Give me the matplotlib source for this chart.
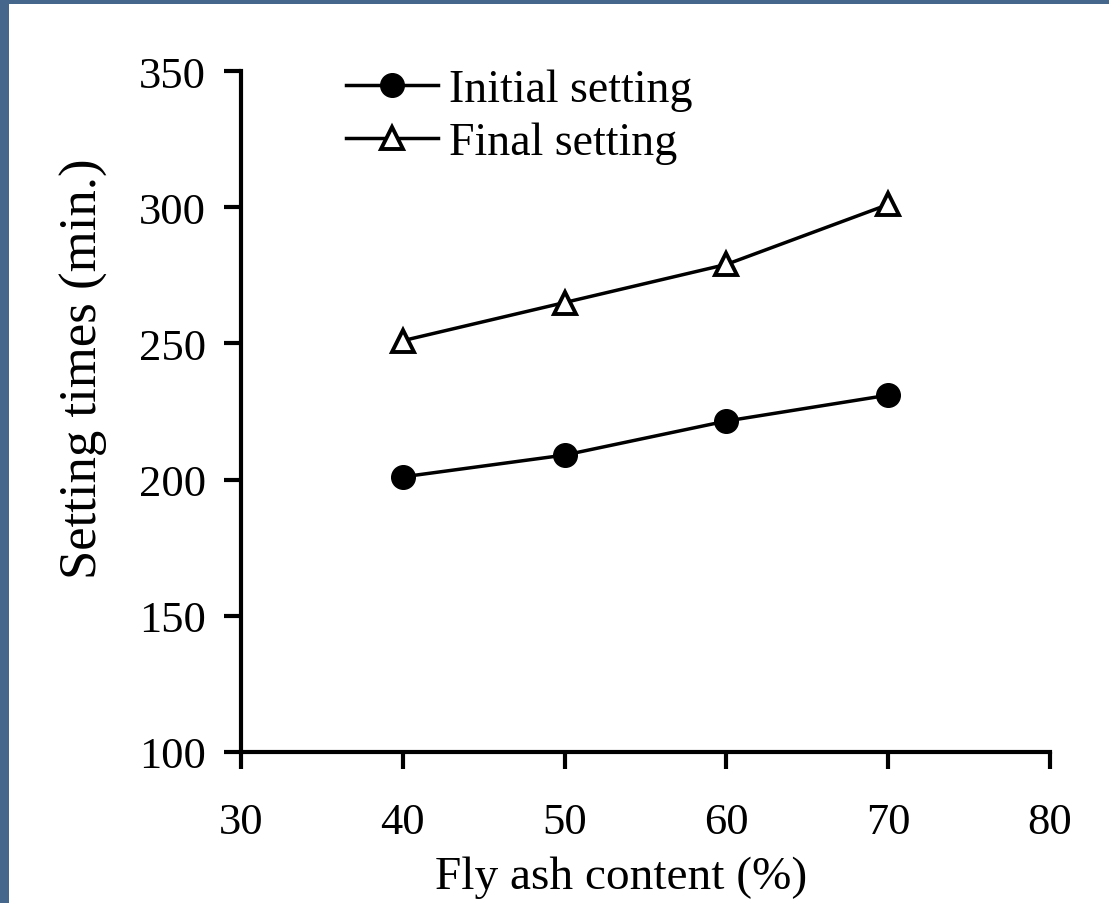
import matplotlib.pyplot as plt
from matplotlib.patches import Rectangle

# data
fly_ash = [40, 50, 60, 70]
initial_setting = [201, 209, 221.5, 231]
final_setting = [251, 265, 279, 301]

x_ticks = [30, 40, 50, 60, 70, 80]
y_ticks = [100, 150, 200, 250, 300, 350]

plt.rcParams['font.family'] = ['Liberation Serif', 'DejaVu Serif']

W, H = 1109, 904
fig = plt.figure(figsize=(W / 100, H / 100), dpi=100)
fig.patch.set_facecolor('#44678b')
# white page inside the blue frame (frame only on left and top)
fig.patches.append(Rectangle((9 / W, 0), 1 - 9 / W, 1 - 5 / H,
                             transform=fig.transFigure, facecolor='white',
                             edgecolor='none', zorder=-10))

ax = fig.add_axes([241 / W, 1 - 753 / H, (1050 - 241) / W, (753 - 72) / H])
ax.set_facecolor('none')
ax.set_zorder(5)

ax.plot(fly_ash, initial_setting, color='black', lw=2.5, marker='o',
        markersize=17, markerfacecolor='black', label='Initial setting')
ax.plot(fly_ash, final_setting, color='black', lw=2.5, marker='^',
        markersize=16, markerfacecolor='white', markeredgewidth=2.8,
        label='Final setting')

ax.set_xlim(30, 80)
ax.set_ylim(100, 350)
ax.set_xticks(x_ticks)
ax.set_yticks(y_ticks)

for side in ['top', 'right']:
    ax.spines[side].set_visible(False)
for side in ['left', 'bottom']:
    ax.spines[side].set_linewidth(3)
ax.tick_params(direction='out', length=12, width=3, labelsize=32)
ax.tick_params(axis='y', pad=13)
ax.tick_params(axis='x', pad=24)

ax.set_xlabel('Fly ash content (%)', fontsize=34)
ax.xaxis.set_label_coords(0.47, -0.152)
ax.set_ylabel('Setting times (min.)', fontsize=38)
ax.yaxis.set_label_coords(-0.164, 0.565)

leg = ax.legend(loc='upper left', bbox_to_anchor=(0.13, 1.003), frameon=False,
                fontsize=33, handlelength=2.0, handletextpad=0.25,
                labelspacing=0.22, borderpad=0, borderaxespad=0)

fig.savefig('out.png', dpi=100, facecolor=fig.get_facecolor())
